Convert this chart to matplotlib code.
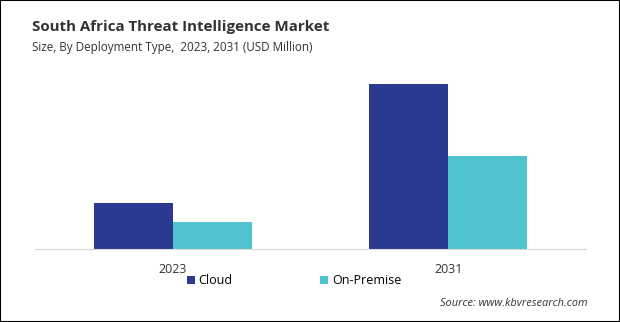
import matplotlib.pyplot as plt
import numpy as np
from matplotlib.patches import Rectangle

years = ['2023', '2031']
cloud = [46, 165]
on_premise = [27, 93]

NAVY = '#2B3990'
CYAN = '#4FC3CF'

plt.rcParams['font.family'] = ['Open Sans', 'DejaVu Sans']

fig = plt.figure(figsize=(6.2, 3.22), dpi=100)
W, H = 620, 322

# axes placed in pixel coords of the reference
ax = fig.add_axes([35 / W, 1 - 249 / H, (586 - 35) / W, (249 - 69) / H])
x = np.arange(len(years))
w = 0.287
ax.bar(x - w / 2, cloud, width=w, color=NAVY, label='Cloud')
ax.bar(x + w / 2, on_premise, width=w, color=CYAN, label='On-Premise')
ax.set_xlim(-0.5, 1.5)
ax.set_ylim(0, 180)
ax.set_yticks([])
ax.set_xticks(x)
ax.set_xticklabels(years, fontsize=9, color='#333333')
ax.tick_params(axis='x', length=0, pad=10)
for s in ['top', 'right', 'left']:
    ax.spines[s].set_visible(False)
ax.spines['bottom'].set_color('#D9D9D9')

fig.text(32 / W, 1 - 27 / H, 'South Africa Threat Intelligence Market', fontsize=10.9,
         fontweight='bold', color='#333333', va='center', ha='left')
fig.text(32 / W, 1 - 47 / H, 'Size, By Deployment Type,  2023, 2031 (USD Million)', fontsize=8.4,
         color='#333333', va='center', ha='left')

# legend
fig.legend(loc='center', bbox_to_anchor=(294 / W, 1 - 281 / H), ncol=2, frameon=False,
           fontsize=9, handlelength=0.65, handleheight=0.65, handletextpad=0.3,
           columnspacing=7.0)

fig.text(588 / W, 1 - 304 / H, 'Source: www.kbvresearch.com', fontsize=7.9, style='italic',
         color='#333333', ha='right', va='center')

fig.add_artist(Rectangle((0, 0), 1, 1, transform=fig.transFigure, fill=False,
                         edgecolor='black', linewidth=1.5))

fig.savefig('out.png', dpi=100)
